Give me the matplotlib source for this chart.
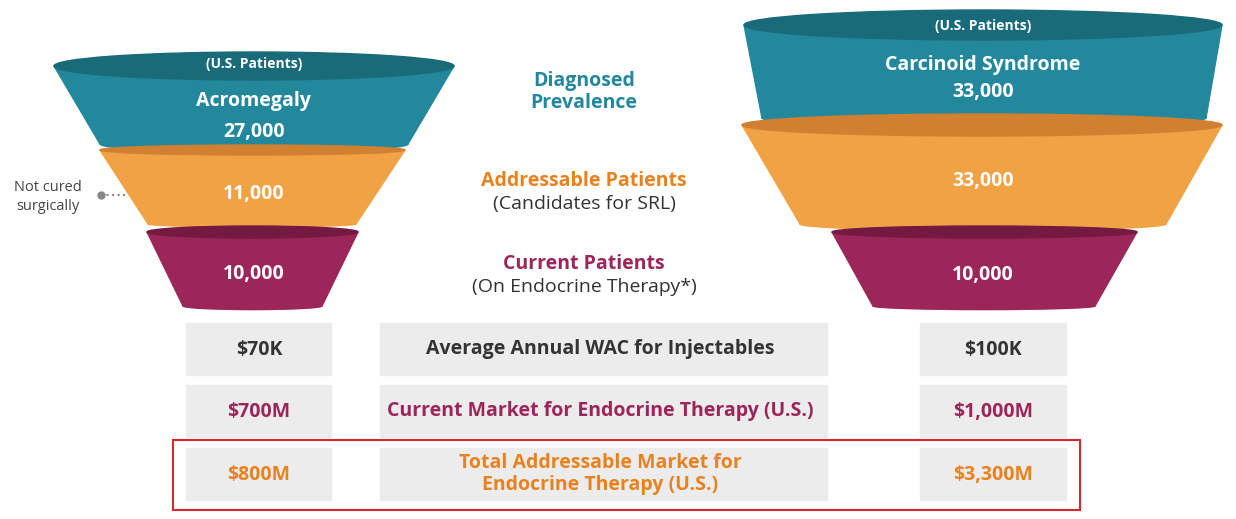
import matplotlib.pyplot as plt
from matplotlib.patches import Polygon, Ellipse, Rectangle

# data
left_values = ["27,000", "11,000", "10,000"]
right_values = ["33,000", "33,000", "10,000"]
left_title = "Acromegaly"
right_title = "Carcinoid Syndrome"
stage_titles = ["Diagnosed\nPrevalence", "Addressable Patients", "Current Patients"]
stage_subs = ["", "(Candidates for SRL)", "(On Endocrine Therapy*)"]
row_labels = ["Average Annual WAC for Injectables",
              "Current Market for Endocrine Therapy (U.S.)",
              "Total Addressable Market for\nEndocrine Therapy (U.S.)"]
left_market = ["$70K", "$700M", "$800M"]
right_market = ["$100K", "$1,000M", "$3,300M"]

TEAL, TEAL_D = "#23889c", "#1a6b79"
ORANGE, ORANGE_D = "#f0a245", "#d08030"
PURPLE, PURPLE_D = "#9c2659", "#741a40"
seg_colors = [(TEAL, TEAL_D), (ORANGE, ORANGE_D), (PURPLE, PURPLE_D)]
row_colors = ["#333333", PURPLE, "#e8821e"]
stage_colors = [TEAL, "#e8821e", PURPLE]
FONT = "Open Sans"
FS = 14

fig = plt.figure(figsize=(12.36, 5.19), dpi=100)
ax = fig.add_axes([0, 0, 1, 1])
ax.set_xlim(0, 1236)
ax.set_ylim(519, 0)
ax.axis("off")


def segment(x0, x1, yt, b0, b1, yb, cols, eh):
    ax.add_patch(Polygon([(x0, yt), (x1, yt), (b1, yb), (b0, yb)], closed=True,
                         color=cols[0], zorder=2))
    ax.add_patch(Ellipse(((b0 + b1) / 2, yb), b1 - b0, eh * 0.6, color=cols[0], zorder=2))
    ax.add_patch(Ellipse(((x0 + x1) / 2, yt), x1 - x0, eh, color=cols[1], zorder=3))


left_segs = [(54, 454, 66, 100, 408, 144, 28), (100, 405, 150, 148, 356, 224, 10),
             (147, 358, 232, 183, 322, 306, 12)]
right_segs = [(744, 1222, 25, 762, 1206, 118, 30), (742, 1222, 125, 800, 1166, 224, 22),
              (832, 1137, 232, 873, 1095, 306, 12)]
for segs in (left_segs, right_segs):
    for i in (2, 1, 0):
        segment(*segs[i][:6], seg_colors[i], segs[i][6])

tk = dict(color="white", fontweight="bold", family=FONT, ha="center", va="center", zorder=5)
ax.text(254, 64, "(U.S. Patients)", fontsize=10, **tk)
ax.text(254, 101, left_title, fontsize=FS, **tk)
ax.text(254, 132, left_values[0], fontsize=FS, **tk)
ax.text(254, 194, left_values[1], fontsize=FS, **tk)
ax.text(254, 274, left_values[2], fontsize=FS, **tk)
ax.text(983, 26, "(U.S. Patients)", fontsize=10, **tk)
ax.text(983, 65, right_title, fontsize=FS, **tk)
ax.text(983, 92, right_values[0], fontsize=FS, **tk)
ax.text(983, 181, right_values[1], fontsize=FS, **tk)
ax.text(983, 275, right_values[2], fontsize=FS, **tk)

# middle stage labels
ax.text(584, 92, stage_titles[0], color=stage_colors[0], fontsize=FS, fontweight="bold",
        family=FONT, ha="center", va="center", linespacing=1.1)
for i, y in ((1, 181), (2, 264)):
    ax.text(584, y, stage_titles[i], color=stage_colors[i], fontsize=FS, fontweight="bold",
            family=FONT, ha="center", va="center")
    ax.text(584, y + 23, stage_subs[i], color="#333333", fontsize=FS,
            family=FONT, ha="center", va="center")

# annotation
ax.text(48, 197, "Not cured\nsurgically", color="#444444", fontsize=10.5, family=FONT,
        ha="center", va="center", linespacing=1.4)
ax.plot([101, 128], [195, 195], ls=":", color="#888888", lw=1.5)
ax.plot(101, 195, "o", color="#888888", ms=5)

# table rows
row_y = [323, 385, 448]
for i, y in enumerate(row_y):
    for x0, w in ((186, 145), (380, 447), (920, 146)):
        ax.add_patch(Rectangle((x0, y), w, 52, color="#ececec", zorder=1))
    kw = dict(color=row_colors[i], fontsize=FS, fontweight="bold", family=FONT,
              ha="center", va="center", linespacing=1.15)
    ax.text(259, y + 27, left_market[i], **kw)
    ax.text(600, y + 26, row_labels[i], **kw)
    ax.text(993, y + 27, right_market[i], **kw)

ax.add_patch(Rectangle((173, 440), 907, 70, fill=False, ec="#d9272e", lw=1.5, zorder=4))

fig.savefig("out.png", dpi=100)
